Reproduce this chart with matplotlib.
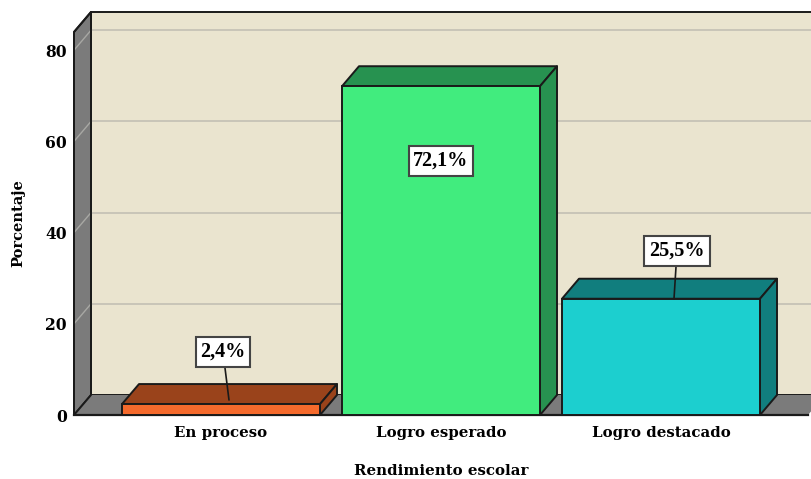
import matplotlib
matplotlib.use('Agg')
import matplotlib.pyplot as plt
from matplotlib.patches import Polygon

####
# Data
#===
categorias = ['En proceso', 'Logro esperado', 'Logro destacado']
valores = [2.4, 72.1, 25.5]
etiquetas = ['2,4%', '72,1%', '25,5%']
colores = ['#F56A2C', '#41EC7E', '#1CCFCF']
tapas = ['#9A431B', '#279250', '#117E7E']
ticks_y = [0, 20, 40, 60, 80]

W, H = 812, 479
FUENTE = 'DejaVu Serif'
FUENTE_VAL = 'Liberation Serif'

####
# Axes
#===
fig = plt.figure(figsize=(W/100, H/100), dpi=100)
ax = fig.add_axes([74/W, (H-415)/H, (W-74)/W, (415-32)/H])
ax.set_xlim((74-221)/220, (812-221)/220)
ax.set_ylim(0, (415-32)/4.56)
ax.patch.set_visible(False)
for s in ax.spines.values():
    s.set_visible(False)

dx = 17/220       # profundidad 3D
dy = 20/4.56
ancho = 0.9
x0 = (74-221)/220
x1 = (808-221)/220
techo = (415-32)/4.56


def poli(puntos, color, borde='#1a1a1a', lw=1.4, z=1):
    ax.add_patch(Polygon(puntos, closed=True, facecolor=color, edgecolor=borde,
                         linewidth=lw, zorder=z, clip_on=False, joinstyle='round'))


####
# Walls and floor
#===
poli([(x0+dx, dy), (x1+dx+0.1, dy), (x1+dx+0.1, techo+dy), (x0+dx, techo+dy)], '#EAE4CF')
poli([(x0, 0), (x0+dx, dy), (x0+dx, techo+dy), (x0, techo)], '#7B7B7B')
poli([(x0, 0), (x1, 0), (x1+dx, dy), (x0+dx, dy)], '#7B7B7B', borde='none')
ax.plot([x0, x1], [0, 0], color='#1a1a1a', lw=1.6, zorder=2, clip_on=False)

for t in ticks_y[1:]:
    ax.plot([x0+dx, x1+dx+0.1], [t+dy, t+dy], color='#C9C5B8', lw=1.4, zorder=2, clip_on=False)
    ax.plot([x0, x0+dx], [t, t+dy], color='#A8A8A4', lw=1.0, zorder=2, clip_on=False)
poli([(x0, 0), (x0+dx, dy), (x0+dx, techo+dy), (x0, techo)], 'none', z=2)

####
# Bars
#===
for i, v in enumerate(valores):
    a, b = i-ancho/2, i+ancho/2
    poli([(a, v), (b, v), (b+dx, v+dy), (a+dx, v+dy)], tapas[i], z=3)
    poli([(b, 0), (b+dx, dy), (b+dx, v+dy), (b, v)], tapas[i], z=3)
    ax.bar(i, v, width=ancho, color=colores[i], edgecolor='#1a1a1a', linewidth=1.4, zorder=4)

####
# Value labels
#===
caja = dict(boxstyle='square,pad=0.24', fc='white', ec='#444444', lw=1.5)
ax.annotate(etiquetas[0], xy=(8/220, (415-400)/4.56), xytext=(2/220, (415-352)/4.56),
            ha='center', va='center', fontsize=14.5, fontweight='bold', family=FUENTE_VAL, bbox=caja,
            arrowprops=dict(arrowstyle='-', color='#1a1a1a', lw=1.2, shrinkA=0, shrinkB=0), zorder=6)
ax.text(1, (415-161)/4.56, etiquetas[1], ha='center', va='center', fontsize=14.5,
        fontweight='bold', family=FUENTE_VAL, bbox=caja, zorder=6)
ax.annotate(etiquetas[2], xy=(2+13/220, valores[2]), xytext=(2+16/220, (415-251)/4.56),
            ha='center', va='center', fontsize=14.5, fontweight='bold', family=FUENTE_VAL, bbox=caja,
            arrowprops=dict(arrowstyle='-', color='#1a1a1a', lw=1.2, shrinkA=0, shrinkB=0), zorder=6)

####
# Ticks and titles
#===
ax.set_xticks(range(len(categorias)))
ax.set_xticklabels(categorias, fontsize=10.8, fontweight='bold', family=FUENTE)
ax.set_yticks(ticks_y)
ax.set_yticklabels([str(t) for t in ticks_y], fontsize=11.2, fontweight='bold', family=FUENTE)
ax.tick_params(axis='y', length=0, pad=5)
ax.tick_params(axis='x', length=0, pad=8)
fig.text(441/W, 1-471/H, 'Rendimiento escolar', ha='center', va='center',
         fontsize=10.8, fontweight='bold', family=FUENTE)
fig.text(18/W, 1-223/H, 'Porcentaje', ha='center', va='center', rotation=90,
         fontsize=10.5, fontweight='bold', family=FUENTE)

fig.savefig('out.png', dpi=100)
